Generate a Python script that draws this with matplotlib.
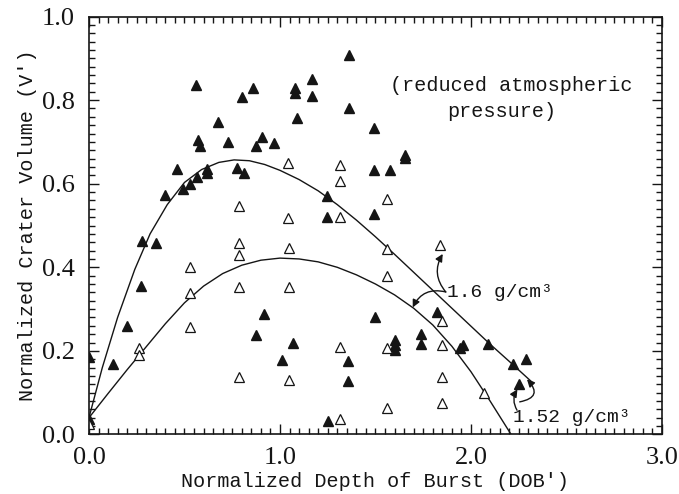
import numpy as np
import matplotlib.pyplot as plt
from matplotlib.ticker import MultipleLocator

# filled triangles (one data set)
dob_filled = [0.00, 0.00, 0.125, 0.20, 0.27, 0.28, 0.35, 0.40, 0.46, 0.49, 0.53, 0.565,
              0.56, 0.57, 0.58, 0.62, 0.62, 0.675, 0.73, 0.775, 0.80, 0.81, 0.86, 0.875,
              0.905, 0.97, 0.875, 0.915, 1.01, 1.07, 1.08, 1.08, 1.09, 1.17, 1.17, 1.36,
              1.36, 1.49, 1.655, 1.655, 1.49, 1.575, 1.245, 1.245, 1.49, 1.50, 1.355, 1.355,
              1.25, 1.60, 1.60, 1.60, 1.74, 1.74, 1.82, 1.94, 1.96, 2.09, 2.22, 2.29, 2.25]
vol_filled = [0.185, 0.037, 0.169, 0.26, 0.355, 0.463, 0.458, 0.573, 0.635, 0.587, 0.600, 0.616,
              0.836, 0.705, 0.69, 0.635, 0.625, 0.748, 0.70, 0.638, 0.807, 0.626, 0.829, 0.69,
              0.712, 0.697, 0.238, 0.288, 0.178, 0.219, 0.829, 0.817, 0.757, 0.85, 0.81, 0.908,
              0.78, 0.733, 0.668, 0.661, 0.632, 0.632, 0.57, 0.52, 0.527, 0.28, 0.177, 0.128,
              0.032, 0.226, 0.214, 0.202, 0.24, 0.216, 0.293, 0.207, 0.214, 0.216, 0.169, 0.18, 0.12]

# open triangles
dob_open = [0.00, 0.26, 0.26, 0.53, 0.53, 0.53, 0.785, 0.785, 0.785, 0.785, 0.785,
            1.04, 1.04, 1.045, 1.045, 1.045, 1.315, 1.315, 1.315, 1.315, 1.315,
            1.56, 1.56, 1.56, 1.56, 1.56, 1.84, 1.85, 1.85, 1.85, 1.85, 2.07]
vol_open = [0.025, 0.207, 0.19, 0.401, 0.338, 0.257, 0.547, 0.458, 0.43, 0.353, 0.137,
            0.65, 0.518, 0.446, 0.353, 0.13, 0.645, 0.606, 0.52, 0.21, 0.037,
            0.563, 0.444, 0.38, 0.207, 0.063, 0.453, 0.272, 0.214, 0.138, 0.075, 0.10]

# fitted curves
dob_upper = [0.0, 0.07, 0.15, 0.24, 0.32, 0.41, 0.50, 0.59, 0.68, 0.76, 0.84, 0.92, 1.00,
             1.10, 1.20, 1.30, 1.40, 1.50, 1.60, 1.70, 1.80, 1.90, 2.00, 2.10, 2.20, 2.32]
vol_upper = [0.04, 0.16, 0.28, 0.395, 0.48, 0.55, 0.603, 0.634, 0.651, 0.657, 0.655, 0.646, 0.632,
             0.61, 0.583, 0.55, 0.513, 0.473, 0.431, 0.388, 0.345, 0.302, 0.259, 0.216, 0.175, 0.125]
dob_lower = [0.0, 0.10, 0.20, 0.30, 0.40, 0.50, 0.60, 0.70, 0.80, 0.90, 1.00, 1.10, 1.20,
             1.30, 1.40, 1.50, 1.60, 1.70, 1.80, 1.90, 2.00, 2.10, 2.21]
vol_lower = [0.04, 0.098, 0.155, 0.21, 0.265, 0.315, 0.355, 0.385, 0.405, 0.417, 0.422, 0.42, 0.413,
             0.40, 0.382, 0.36, 0.334, 0.302, 0.262, 0.211, 0.15, 0.08, 0.0]

mono = 'Liberation Mono'
serif = 'Liberation Serif'
ink = '#151515'

fig = plt.figure(figsize=(6.79, 4.94), dpi=100)
ax = fig.add_axes([0.131, 0.1205, 0.844, 0.846])

ax.plot(dob_upper, vol_upper, color=ink, lw=1.0)
ax.plot(dob_lower, vol_lower, color=ink, lw=1.0)
ax.plot(dob_filled, vol_filled, '^', ms=7, color=ink, mec=ink, ls='none')
ax.plot(dob_open, vol_open, '^', ms=7, mfc='white', mec=ink, mew=0.9, ls='none')

ax.set_xlim(0, 3.0)
ax.set_ylim(0, 1.0)
ax.xaxis.set_major_locator(MultipleLocator(1.0))
ax.xaxis.set_minor_locator(MultipleLocator(0.05))
ax.yaxis.set_major_locator(MultipleLocator(0.2))
ax.yaxis.set_minor_locator(MultipleLocator(0.02))
ax.xaxis.set_major_formatter(plt.FormatStrFormatter('%.1f'))
ax.yaxis.set_major_formatter(plt.FormatStrFormatter('%.1f'))
ax.tick_params(which='both', direction='in', top=True, right=True, color=ink, width=1.0)
ax.tick_params(which='major', length=7)
ax.tick_params(which='minor', length=4)
ax.tick_params(axis='x', which='major', pad=9)
ax.tick_params(axis='y', which='major', pad=10)
for lab in ax.get_xticklabels() + ax.get_yticklabels():
    lab.set_fontfamily(serif)
    lab.set_fontsize(19)
    lab.set_color(ink)
for s in ax.spines.values():
    s.set_linewidth(1.2)
    s.set_color(ink)

ax.set_xlabel("Normalized Depth of Burst (DOB')", fontfamily=mono, fontsize=14.5, color=ink, labelpad=2)
ax.set_ylabel("Normalized Crater Volume (V')", fontfamily=mono, fontsize=14.5, color=ink, labelpad=4)

ax.text(1.576, 0.836, "(reduced atmospheric", fontfamily=mono, fontsize=14.5, color=ink,
        ha='left', va='center')
ax.text(1.875, 0.772, "pressure)", fontfamily=mono, fontsize=14.5, color=ink,
        ha='left', va='center')

# density labels with curved arrows
ax.text(1.874, 0.339, "1.6 g/cm³", fontfamily=mono, fontsize=14, color=ink,
        ha='left', va='center')
ax.text(2.222, 0.040, "1.52 g/cm³", fontfamily=mono, fontsize=14, color=ink,
        ha='left', va='center')

arr = dict(arrowstyle='-|>', color=ink, lw=1.0, mutation_scale=11, shrinkA=0, shrinkB=0)
ax.annotate("", xy=(1.852, 0.432), xytext=(1.868, 0.341),
            arrowprops=dict(arr, connectionstyle='arc3,rad=-0.35'))
ax.annotate("", xy=(1.695, 0.304), xytext=(1.868, 0.341),
            arrowprops=dict(arr, connectionstyle='arc3,rad=0.4'))
ax.annotate("", xy=(2.243, 0.108), xytext=(2.241, 0.058),
            arrowprops=dict(arr, connectionstyle='arc3,rad=-0.3'))
ax.annotate("", xy=(2.293, 0.132), xytext=(2.255, 0.078),
            arrowprops=dict(arr, connectionstyle='arc3,rad=0.9'))

fig.savefig('out.png', dpi=100)
